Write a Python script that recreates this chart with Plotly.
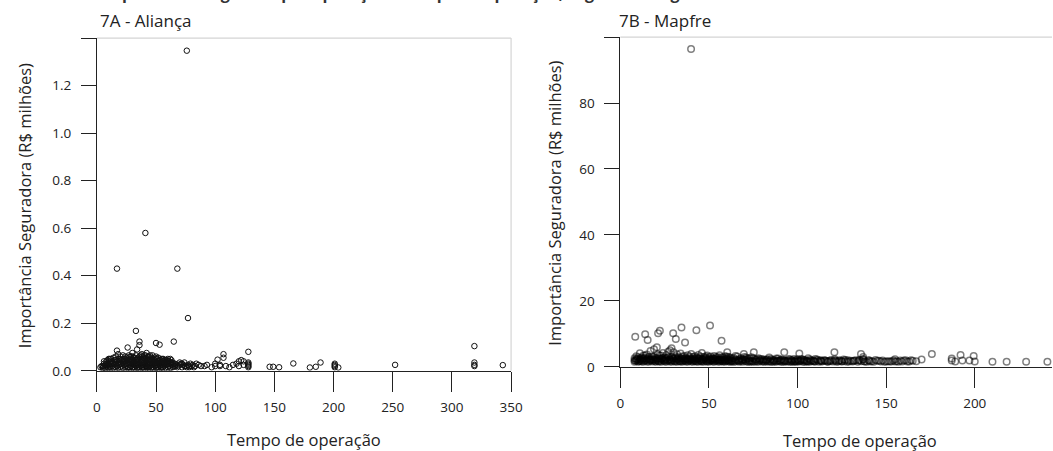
import plotly.graph_objects as go

# ---------------- data ----------------
# 7A - Aliança : tempo de operação (x) e importância segurada (R$ milhões)
alianca_tempo = [
    3, 5, 5, 6, 6, 7, 7, 8, 8, 9,
    9, 9, 10, 10, 10, 11, 11, 12, 12, 12,
    13, 13, 14, 14, 14, 15, 15, 16, 16, 16,
    17, 17, 17, 17, 18, 18, 18, 19, 19, 20,
    20, 20, 21, 21, 22, 22, 22, 23, 23, 24,
    24, 24, 25, 25, 25, 26, 26, 26, 27, 27,
    28, 28, 28, 29, 29, 30, 30, 30, 30, 31,
    31, 32, 32, 33, 33, 33, 33, 34, 34, 34,
    35, 35, 36, 36, 36, 36, 37, 37, 38, 38,
    38, 39, 39, 40, 40, 40, 41, 41, 41, 42,
    42, 42, 43, 43, 44, 44, 45, 45, 45, 46,
    46, 47, 47, 48, 48, 48, 49, 49, 50, 50,
    50, 50, 51, 51, 52, 52, 53, 53, 53, 54,
    54, 55, 55, 55, 56, 56, 57, 57, 58, 58,
    59, 59, 60, 60, 61, 61, 62, 62, 63, 63,
    64, 64, 65, 66, 66, 68, 68, 70, 70, 72,
    72, 74, 74, 76, 76, 77, 77, 78, 78, 80,
    82, 84, 88, 91, 93, 97, 100, 100, 102, 104,
    104, 107, 107, 109, 112, 115, 118, 120, 120, 122,
    124, 124, 128, 128, 128, 128, 128, 128, 146, 149,
    154, 166, 180, 185, 189, 201, 201, 201, 201, 204,
    252, 319, 319, 319, 319, 343,
    4, 6, 8, 10, 11, 13, 15, 16, 18, 19,
    20, 21, 22, 23, 24, 25, 26, 27, 27, 28,
    29, 29, 30, 31, 31, 32, 32, 33, 34, 34,
    35, 35, 36, 36, 37, 37, 38, 38, 39, 39,
    40, 40, 41, 41, 42, 42, 43, 43, 44, 44,
    45, 46, 46, 47, 47, 48, 49, 49, 50, 51,
    51, 52, 52, 53, 54, 54, 55, 56, 56, 57,
    58, 58, 59, 60, 60, 61, 62, 63, 64, 65,
    65, 67, 69, 71, 73, 75, 79, 81, 83, 86,
]
alianca_importancia = [
    0.015, 0.012, 0.02, 0.018, 0.03, 0.012, 0.025, 0.02, 0.04, 0.015,
    0.03, 0.045, 0.012, 0.025, 0.04, 0.018, 0.035, 0.014, 0.028, 0.05,
    0.02, 0.04, 0.012, 0.03, 0.055, 0.018, 0.045, 0.015, 0.03, 0.06,
    0.02, 0.04, 0.085, 0.43, 0.012, 0.035, 0.07, 0.025, 0.05, 0.015,
    0.03, 0.06, 0.02, 0.045, 0.012, 0.035, 0.065, 0.025, 0.05, 0.015,
    0.04, 0.06, 0.02, 0.03, 0.055, 0.012, 0.045, 0.098, 0.025, 0.065,
    0.015, 0.035, 0.05, 0.02, 0.06, 0.012, 0.03, 0.045, 0.075, 0.025,
    0.055, 0.015, 0.04, 0.168, 0.02, 0.03, 0.065, 0.012, 0.05, 0.09,
    0.025, 0.04, 0.015, 0.06, 0.108, 0.123, 0.02, 0.035, 0.012, 0.045,
    0.07, 0.025, 0.055, 0.015, 0.035, 0.065, 0.02, 0.05, 0.58, 0.012,
    0.03, 0.075, 0.025, 0.045, 0.015, 0.06, 0.02, 0.035, 0.05, 0.012,
    0.04, 0.025, 0.065, 0.015, 0.03, 0.05, 0.02, 0.045, 0.117, 0.012,
    0.035, 0.06, 0.025, 0.05, 0.015, 0.04, 0.02, 0.03, 0.11, 0.012,
    0.045, 0.025, 0.035, 0.05, 0.015, 0.04, 0.02, 0.03, 0.012, 0.045,
    0.025, 0.035, 0.015, 0.04, 0.02, 0.03, 0.012, 0.05, 0.025, 0.035,
    0.015, 0.035, 0.123, 0.02, 0.03, 0.015, 0.43, 0.025, 0.035, 0.015,
    0.03, 0.02, 0.035, 0.015, 1.347, 0.025, 0.222, 0.015, 0.02, 0.02,
    0.015, 0.03, 0.02, 0.02, 0.025, 0.015, 0.02, 0.03, 0.047, 0.02,
    0.025, 0.07, 0.055, 0.02, 0.015, 0.025, 0.03, 0.04, 0.02, 0.045,
    0.025, 0.04, 0.015, 0.02, 0.025, 0.03, 0.035, 0.08, 0.017, 0.017,
    0.015, 0.031, 0.014, 0.017, 0.035, 0.015, 0.02, 0.025, 0.03, 0.014,
    0.025, 0.104, 0.035, 0.025, 0.02, 0.024,
    0.02, 0.04, 0.03, 0.05, 0.05, 0.03, 0.03, 0.045, 0.025, 0.04,
    0.045, 0.03, 0.05, 0.04, 0.03, 0.045, 0.03, 0.04, 0.015, 0.06,
    0.035, 0.045, 0.06, 0.015, 0.04, 0.03, 0.055, 0.045, 0.025, 0.035,
    0.015, 0.055, 0.03, 0.045, 0.05, 0.065, 0.025, 0.06, 0.015, 0.04,
    0.025, 0.05, 0.035, 0.065, 0.02, 0.045, 0.015, 0.06, 0.03, 0.045,
    0.065, 0.025, 0.055, 0.015, 0.045, 0.04, 0.035, 0.055, 0.025, 0.04,
    0.015, 0.03, 0.055, 0.045, 0.025, 0.035, 0.015, 0.03, 0.05, 0.045,
    0.025, 0.035, 0.045, 0.03, 0.05, 0.04, 0.035, 0.045, 0.025, 0.03,
    0.018, 0.025, 0.02, 0.03, 0.025, 0.02, 0.03, 0.025, 0.02, 0.025,
]

# 7B - Mapfre
mapfre_tempo = [
    8, 8, 9, 9, 10, 10, 11, 11, 12, 12,
    13, 13, 14, 14, 15, 15, 16, 16, 17, 17,
    18, 18, 19, 19, 20, 20, 21, 21, 22, 22,
    23, 23, 24, 24, 25, 25, 26, 26, 27, 27,
    28, 28, 29, 29, 30, 30, 31, 31, 32, 32,
    33, 33, 34, 34, 35, 35, 36, 36, 37, 37,
    38, 38, 39, 39, 40, 40, 41, 41, 42, 42,
    43, 43, 44, 44, 45, 45, 46, 46, 47, 47,
    48, 48, 49, 49, 50, 50, 51, 51, 52, 52,
    53, 53, 54, 54, 55, 55, 56, 56, 57, 57,
    58, 58, 59, 59, 60, 60, 61, 61, 62, 62,
    63, 64, 64, 65, 66, 66, 67, 68, 68, 69,
    70, 70, 71, 72, 72, 73, 74, 74, 75, 76,
    77, 78, 78, 79, 80, 80, 81, 82, 83, 84,
    85, 86, 87, 88, 88, 89, 90, 91, 92, 93,
    94, 95, 96, 97, 98, 99, 100, 101, 102, 103,
    104, 105, 106, 107, 108, 110, 111, 112, 114, 115,
    117, 118, 120, 121, 122, 124, 125, 127, 128, 130,
    131, 133, 134, 136, 137, 139, 141, 143, 146, 149,
    152, 154, 155, 157, 160, 162, 165, 170, 187, 187,
    189, 193, 197, 200, 210, 218, 229, 241,
    39.9, 8.4, 14, 15.4, 21.3, 22.3, 29.8, 31.3, 34.5, 36.5,
    42.9, 50.6, 57.1, 20.6, 28.9, 60.3, 69.7, 75.3, 92.5, 101,
    120.8, 135.8, 175.8, 192, 199.4,
    8, 9, 10, 11, 12, 13, 14, 15, 16, 17,
    18, 19, 20, 21, 22, 23, 24, 25, 26, 27,
    28, 29, 30, 31, 32, 33, 34, 35, 36, 37,
    38, 39, 40, 41, 42, 43, 44, 45, 46, 47,
    48, 49, 50, 51, 52, 53, 54, 55, 56, 57,
    58, 59, 60, 61, 62, 63, 63, 65, 65, 67,
    67, 69, 69, 71, 71, 73, 73, 75, 76, 77,
    79, 81, 82, 83, 84, 85, 86, 87, 89, 90,
    91, 92, 93, 95, 96, 97, 98, 99, 100, 102,
    103, 104, 106, 107, 109, 110, 113, 116, 119, 123,
    126, 129, 132, 135, 138, 140, 142, 144, 147, 151,
    153, 156, 159, 161, 163,
    8.5, 9.5, 10.5, 11.5, 12.5, 13.5, 14.5, 15.5, 16.5, 17.5,
    18.5, 19.5, 20.5, 21.5, 22.5, 23.5, 24.5, 25.5, 26.5, 27.5,
    28.5, 29.5, 30.5, 31.5, 32.5, 33.5, 34.5, 35.5, 36.5, 37.5,
    38.5, 39.5, 40.5, 41.5, 42.5, 43.5, 44.5, 45.5, 46.5, 47.5,
    48.5, 49.5, 50.5, 51.5, 52.5, 53.5, 54.5, 55.5, 56.5, 57.5,
    58.5, 59.5, 60.5, 61.5, 62.5, 64.5, 66.5, 68.5, 70.5, 72.5,
    74.5, 76.5, 78.5, 80.5, 82.5, 84.5, 86.5, 88.5, 90.5, 92.5,
    94.5, 96.5, 98.5, 100.5, 105, 109, 113, 117, 121, 125,
    101.5, 103.5, 105.5, 107.5, 109.5, 111.5, 113.5, 115.5, 118.5, 121.5,
    123.5, 126.5, 128.5, 131.5, 134.5, 137.5, 140.5, 145, 148, 150,
    155, 158, 164, 167, 137, 137,
]
mapfre_importancia = [
    1.5, 2.6, 1.9, 3.2, 1.5, 2.3, 1.8, 4.1, 1.6, 2.8,
    1.5, 3.4, 2.0, 2.7, 1.6, 3.7, 1.5, 2.4, 1.9, 4.8,
    1.6, 3.1, 2.2, 5.3, 1.5, 2.7, 1.9, 3.8, 1.6, 2.5,
    1.5, 3.4, 2.1, 4.2, 1.6, 2.8, 1.5, 3.6, 1.9, 4.6,
    1.6, 5.0, 1.5, 3.0, 2.0, 4.4, 1.6, 2.6, 1.5, 3.8,
    1.8, 2.9, 1.6, 4.0, 1.5, 2.5, 2.1, 3.3, 1.6, 2.7,
    1.5, 3.5, 1.9, 2.6, 1.6, 3.9, 1.5, 2.4, 2.0, 3.2,
    1.6, 2.8, 1.5, 3.6, 1.9, 2.5, 1.6, 4.2, 1.5, 3.0,
    2.0, 2.7, 1.6, 3.4, 1.5, 2.4, 1.8, 3.1, 1.6, 2.6,
    1.5, 3.3, 1.9, 2.5, 1.6, 2.9, 1.5, 3.5, 2.0, 2.4,
    1.6, 2.8, 1.5, 3.2, 1.8, 2.5, 1.6, 3.0, 1.5, 2.3,
    1.9, 1.5, 2.7, 1.6, 2.0, 3.1, 1.5, 1.7, 2.6, 1.5,
    2.2, 3.0, 1.6, 1.5, 2.5, 1.8, 1.6, 2.9, 1.5, 2.2,
    1.6, 1.5, 2.6, 1.9, 1.6, 2.3, 1.5, 2.0, 1.6, 2.8,
    1.5, 2.1, 1.6, 1.5, 2.5, 1.8, 1.6, 2.2, 1.5, 1.9,
    1.6, 2.4, 1.5, 2.0, 1.6, 1.5, 2.3, 1.6, 1.9, 1.5,
    2.1, 1.6, 2.6, 1.5, 1.8, 1.6, 2.2, 1.5, 1.7, 2.0,
    1.5, 1.8, 1.6, 2.3, 1.5, 1.9, 1.6, 2.1, 1.5, 1.8,
    1.6, 2.0, 1.5, 1.7, 2.4, 1.5, 1.6, 1.5, 1.8, 1.5,
    1.6, 1.9, 2.3, 1.5, 1.9, 1.6, 1.8, 2.2, 1.9, 2.5,
    1.6, 1.9, 1.9, 1.6, 1.5, 1.5, 1.5, 1.5,
    96.4, 9.1, 9.9, 8.1, 10.2, 10.9, 10.2, 8.4, 11.9, 7.4,
    11.1, 12.5, 7.9, 5.9, 5.6, 4.4, 3.9, 4.4, 4.4, 4.0,
    4.4, 3.9, 3.9, 3.6, 3.3,
    2.0, 2.4, 2.9, 2.2, 2.0, 2.5, 3.4, 2.1, 3.0, 2.3,
    2.4, 3.0, 2.1, 2.6, 3.4, 2.3, 2.7, 2.1, 2.5, 2.9,
    2.3, 2.1, 2.7, 3.2, 2.3, 2.2, 2.6, 3.1, 2.5, 2.2,
    2.2, 3.1, 2.4, 3.0, 2.5, 2.2, 2.6, 3.1, 2.3, 2.2,
    3.1, 2.3, 2.9, 2.4, 2.0, 2.4, 3.0, 2.2, 2.2, 2.9,
    2.2, 2.3, 3.1, 2.2, 2.8, 2.5, 1.6, 2.2, 3.3, 2.3,
    1.9, 2.4, 2.0, 2.2, 2.8, 2.5, 1.5, 2.6, 1.6, 2.3,
    2.4, 2.2, 1.6, 2.3, 1.6, 2.4, 1.5, 2.1, 2.5, 1.9,
    1.5, 2.1, 1.6, 1.6, 2.2, 1.5, 2.4, 2.0, 1.6, 2.4,
    2.2, 1.5, 1.6, 2.2, 1.9, 2.4, 2.0, 1.8, 2.1, 1.6,
    2.2, 1.6, 1.8, 2.1, 1.6, 2.0, 1.7, 2.1, 1.6, 1.7,
    1.6, 1.7, 1.6, 2.0, 1.6,
    1.8, 2.2, 1.7, 2.5, 2.2, 1.8, 2.3, 2.6, 1.9, 2.1,
    2.0, 1.7, 2.3, 1.7, 2.0, 2.6, 1.8, 2.3, 1.9, 2.2,
    1.9, 2.5, 1.7, 2.1, 2.6, 1.7, 2.1, 1.8, 1.8, 2.4,
    1.8, 2.2, 2.0, 1.8, 1.7, 2.4, 2.0, 1.7, 2.0, 2.5,
    1.7, 2.0, 1.9, 2.1, 2.4, 1.8, 2.2, 2.0, 1.8, 1.7,
    2.0, 1.8, 2.1, 1.9, 1.8, 2.0, 1.8, 2.1, 1.8, 2.0,
    1.8, 2.0, 1.9, 1.8, 2.1, 1.9, 1.8, 1.8, 2.0, 1.8,
    1.9, 1.8, 1.7, 1.9, 1.9, 1.7, 1.8, 1.6, 1.9, 1.7,
    1.8, 2.0, 1.7, 1.9, 1.6, 1.9, 1.6, 1.9, 1.7, 1.8,
    1.9, 1.7, 2.0, 1.8, 1.9, 1.7, 1.9, 1.8, 1.9, 1.6,
    1.6, 1.9, 2.0, 1.7, 3.0, 2.2,
]

alianca_xticks = [0, 50, 100, 150, 200, 250, 300, 350]
alianca_yticks = [0.0, 0.2, 0.4, 0.6, 0.8, 1.0, 1.2, 1.4]
alianca_yticktext = ["0.0", "0.2", "0.4", "0.6", "0.8", "1.0", "1.2", ""]
mapfre_xticks = [0, 50, 100, 150, 200]
mapfre_yticks = [0, 20, 40, 60, 80, 100]
mapfre_yticktext = ["0", "20", "40", "60", "80", ""]

titulo = "Importância segurada por operação e tempo de operação, segundo a seguradora"
subtitulos = ["7A - Aliança", "7B - Mapfre"]
x_titulo = "Tempo de operação"
y_titulo = "Importância Seguradora (R$ milhões)"

# ---------------- figure ----------------
W, H = 1053, 451            # reference geometry (positions below are fractions of it)
W_FIG, H_FIG = 1064, 461    # page size that the capture maps onto 1053x451
FONT = "Open Sans"
TXT = "#222222"
AX = "#222222"
FRAME = "#d4d4d4"

def px_x(p):
    return p / W

def px_y(p):
    return (H - p) / H

fig = go.Figure()

fig.add_trace(go.Scatter(
    x=alianca_tempo, y=alianca_importancia, mode="markers",
    xaxis="x", yaxis="y", name="Aliança",
    marker=dict(symbol="circle-open", size=5.5, color="#111111",
                line=dict(width=1, color="#111111")),
))
fig.add_trace(go.Scatter(
    x=mapfre_tempo, y=mapfre_importancia, mode="markers",
    xaxis="x2", yaxis="y2", name="Mapfre",
    marker=dict(symbol="circle-open", size=6.5, color="rgba(0,0,0,0.5)",
                line=dict(width=1.5, color="rgba(0,0,0,0.5)")),
))

tickfont = dict(family=FONT, size=13.5, color=TXT)
common_x = dict(showgrid=False, zeroline=False, showline=True, linecolor=AX, linewidth=1,
                ticks="outside", ticklen=20, tickcolor=AX, tickwidth=1,
                tickfont=tickfont, fixedrange=True, ticklabelstandoff=4)
common_y = dict(showgrid=False, zeroline=False, showline=True, linecolor=AX, linewidth=1,
                ticks="outside", ticklen=15, tickcolor=AX, tickwidth=1,
                tickfont=tickfont, fixedrange=True, ticklabelstandoff=7)

fig.update_layout(
    width=W_FIG, height=H_FIG,
    margin=dict(l=0, r=0, t=0, b=0),
    paper_bgcolor="white", plot_bgcolor="white",
    showlegend=False,
    font=dict(family=FONT, color=TXT),
    xaxis=dict(domain=[px_x(93.3), px_x(509.5)], range=[0, 350], anchor="y",
               tickmode="array", tickvals=alianca_xticks, **common_x),
    yaxis=dict(domain=[px_y(370), px_y(38)], range=[0, 1.4], anchor="x",
               tickmode="array", tickvals=alianca_yticks, ticktext=alianca_yticktext, **common_y),
    xaxis2=dict(domain=[px_x(619.3), 1.0], range=[0, 243.6], anchor="y2",
                tickmode="array", tickvals=mapfre_xticks, **common_x),
    yaxis2=dict(domain=[px_y(366), px_y(37)], range=[0, 100], anchor="x2",
                tickmode="array", tickvals=mapfre_yticks, ticktext=mapfre_yticktext, **common_y),
)

# light frame (top / right) of each panel
fig.add_shape(type="line", xref="x domain", yref="y domain", x0=0, x1=1, y0=1, y1=1,
              line=dict(color=FRAME, width=1.2), layer="below")
fig.add_shape(type="line", xref="x domain", yref="y domain", x0=1, x1=1, y0=0, y1=1,
              line=dict(color=FRAME, width=1.2), layer="below")
fig.add_shape(type="line", xref="x2 domain", yref="y2 domain", x0=0, x1=1, y0=1, y1=1,
              line=dict(color=FRAME, width=1.2), layer="below")

# main title, clipped at the top edge as in the reference (only descenders visible)
fig.add_annotation(text=f"<b>{titulo}</b>", xref="paper", yref="paper",
                   x=px_x(95), y=1.0, xanchor="left", yanchor="bottom", yshift=-6,
                   showarrow=False, font=dict(family=FONT, size=16, color="#333333"))

# panel titles
fig.add_annotation(text=subtitulos[0], xref="paper", yref="paper", x=px_x(94), y=px_y(20),
                   xanchor="left", yanchor="middle", showarrow=False,
                   font=dict(family=FONT, size=17, color=TXT))
fig.add_annotation(text=subtitulos[1], xref="paper", yref="paper", x=px_x(616), y=px_y(20),
                   xanchor="left", yanchor="middle", showarrow=False,
                   font=dict(family=FONT, size=17, color=TXT))

# axis titles
for xc, yc in ((301.5, 439), (860, 439.5)):
    fig.add_annotation(text=x_titulo, xref="paper", yref="paper", x=px_x(xc), y=px_y(yc),
                       xanchor="center", yanchor="middle", showarrow=False,
                       font=dict(family=FONT, size=16.5, color=TXT))
for xc, yc in ((21, 205), (553, 203)):
    fig.add_annotation(text=y_titulo, xref="paper", yref="paper", x=px_x(xc), y=px_y(yc),
                       xanchor="center", yanchor="middle", textangle=-90, showarrow=False,
                       font=dict(family=FONT, size=16.5, color=TXT))

fig.write_html(
    "out.html",
    config={"displayModeBar": False},
    post_script=(
        "document.body.style.margin='0';"
        "document.body.style.overflow='hidden';"
    ),
)
